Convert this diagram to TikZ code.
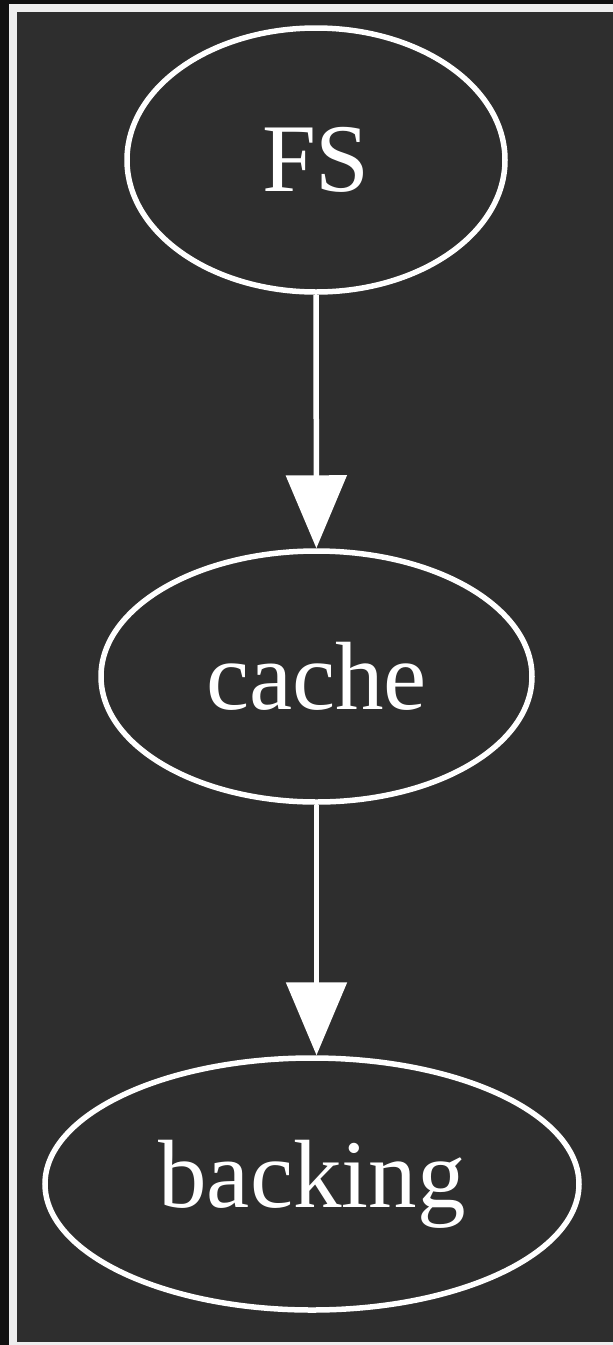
\documentclass[tikz,border=0pt]{standalone}
\usepackage{fontspec}
\setmainfont{Liberation Serif}
\usetikzlibrary{shapes.geometric,arrows.meta}
\definecolor{outerdark}{HTML}{111111}
\definecolor{framelight}{HTML}{EEEEEE}
\definecolor{bgdark}{HTML}{2E2E2E}
\tikzset{
  gnode/.style={draw=white, line width=5.5pt, ellipse, inner sep=0pt, text=white,
    font=\fontsize{97}{110}\selectfont},
  gedge/.style={draw=white, line width=5.5pt, -{Triangle[length=73pt,width=60pt]}}
}
\begin{document}
\begin{tikzpicture}[x=1pt,y=-1pt]
\useasboundingbox (0,0) rectangle (613,1345);
\fill[outerdark] (0,0) rectangle (613,1345);
\fill[framelight] (9,4) rectangle (613,1345);
\fill[bgdark] (17,12) rectangle (613,1342);
\node[gnode, minimum width=378pt, minimum height=264pt] (fs) at (316,160) {FS};
\node[gnode, minimum width=431pt, minimum height=251pt] (cache) at (316.5,676.5) {cache};
\node[gnode, minimum width=534pt, minimum height=252pt] (backing) at (312,1184) {backing};
\draw[gedge] (fs) -- (cache);
\draw[gedge] (cache.south) -- (cache.south |- backing.north);
\end{tikzpicture}
\end{document}
